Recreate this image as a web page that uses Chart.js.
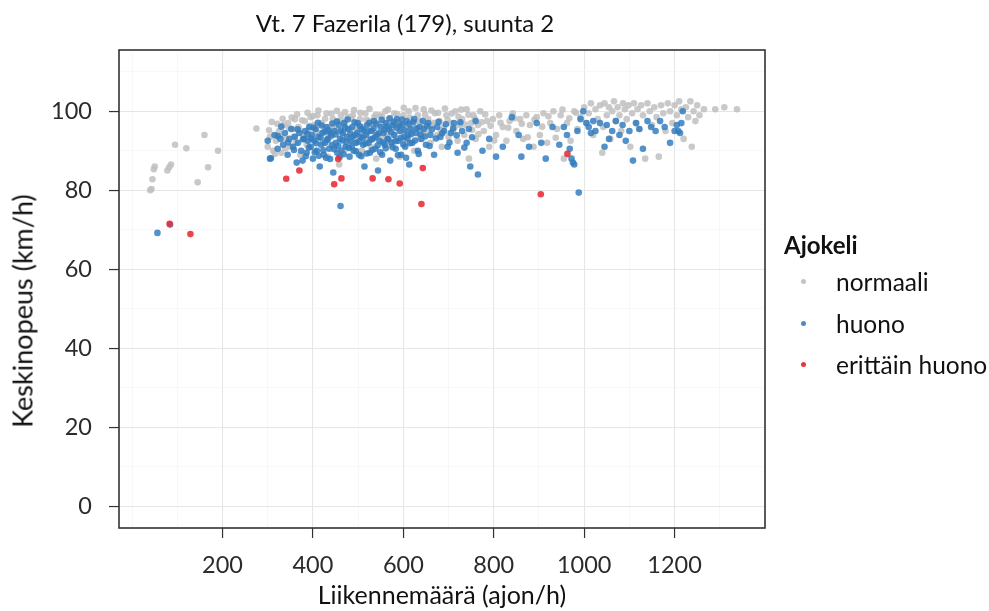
<!DOCTYPE html>
<html>
<head>
<meta charset="utf-8">
<script src="https://cdn.jsdelivr.net/npm/chart.js@4.4.1/dist/chart.umd.min.js"></script>
<style>
  body { margin: 0; background: #fff; }
  #wrap { position: relative; width: 989px; height: 611px; font-family: Lato, "Open Sans", sans-serif; }
  #title { position: absolute; left: 0; width: 810px; top: 8px; text-align: center; font-size: 24px; color: #111; }
  #ytitle { position: absolute; left: 22px; top: 311px; white-space: nowrap; font-size: 27px; color: #111;
            transform: translate(-50%, -50%) rotate(-90deg); }
  #legend { position: absolute; left: 784px; top: 229px; color: #111; font-size: 24.5px; }
  #legend .lt { font-weight: bold; font-size: 24px; height: 32px; line-height: 32px; }
  #legend .it { position: relative; height: 41.5px; line-height: 41.5px; padding-left: 52px; }
  #legend .dot { position: absolute; left: 17px; top: 18px; width: 5px; height: 5px; border-radius: 50%; }
</style>
</head>
<body>
<div id="wrap">
  <canvas id="c" width="989" height="611"></canvas>
  <div id="title">Vt. 7 Fazerila (179), suunta 2</div>
  <div id="ytitle">Keskinopeus (km/h)</div>
  <div id="legend"></div>
</div>
<script>
(function () {
  'use strict';

  // Ajokeli: normaali  [liikennemäärä, keskinopeus]
  var normaali = [
    [40,80],[43,80.3],[45,82.8],[48,85.3],[50,86],[78,85],[82,85.8],[86,86.5],[95,91.5],[120,90.6],
    [145,82],[160,94],[168,85.8],[190,90],[275,95.6],
    [300,91],[305,93.5],[312,90],[318,92.5],[325,95],[330,89.5],[335,96.5],[340,93],[345,97],[350,91],
    [355,95.5],[360,98],[362,92],[368,96],[372,89],[378,94],[382,97.5],[386,91.5],[390,95],[395,98.5],
    [398,93],[402,96.5],[405,90],[410,99],[414,94.5],[418,97],[422,92],[426,95.5],[430,99.5],[433,88.5],
    [436,96],[440,93.5],[444,98],[448,91],[452,95],[455,97.5],[458,86.5],[462,99],[466,94],[470,96.5],
    [473,90.5],[477,98.5],[480,93],[484,95.5],[488,99],[492,92],[496,97],[500,94.5],[504,98],[508,90],
    [512,96],[516,99.5],[520,93.5],[524,97.5],[528,91],[532,95],[536,98.5],[540,88],[544,96.5],[548,99],
    [552,93],[556,97],[560,100],[564,94],[568,98],[572,91.5],[576,96],[580,99.5],[584,93],[588,97.5],
    [592,88.5],[596,95],[600,99],[604,92.5],[608,96.5],[612,100],[616,94],[620,97.5],[624,90],[628,95.5],
    [632,99],[636,93],[640,97],[645,100.5],[650,95],[655,98],[660,92],[665,96.5],[670,99.5],[675,94],
    [680,97.5],[685,91],[690,96],[695,99],[700,93.5],[705,97],[710,95],[715,100],[720,92.5],[725,96.5],
    [730,98],[735,94],[740,100.5],[745,88],[750,97],
    [303,95.2],[309,97.3],[316,89.2],[321,96.8],[327,93.8],[333,98.1],[339,90.6],[347,95.8],[353,98.4],[358,93.6],
    [365,99.2],[371,95.1],[376,97.7],[381,93.2],[388,99.6],[393,96.3],[400,98.8],[407,94.9],[412,100.2],[420,96.8],
    [427,98.1],[434,94.3],[441,99.4],[446,96.3],[453,100.1],[459,94.8],[464,97.6],[471,99.8],[478,95.4],[485,98.2],
    [491,100.3],[498,96.1],[505,99.6],[511,94.2],[518,97.9],[525,100.6],[533,96.7],[539,99.1],[546,94.6],[553,98.6],
    [559,96.2],[566,100.4],[573,97.2],[579,94.1],[586,99.3],[593,96.8],[601,100.9],[607,94.9],[614,98.4],[621,95.7],
    [627,100.8],[634,97.4],[642,94.6],[648,99.2],[657,96.1],[662,100.2],[668,97.1],[677,99.6],[683,95.2],[692,100.7],
    [698,97.8],[707,99.4],[713,95.9],[722,98.6],[728,100.4],[737,96.6],[744,99.1],[752,95.3],[758,98.1],[766,94.2],
    [773,97.2],[781,99.2],[793,96.3],[801,92.6],[815,97.1],[832,95.8],[845,98.2],[862,96.8],[875,93.4],[890,97.9],
    [907,96.1],[921,98.7],[937,93.3],[952,100.4],[967,98.2],[982,99.6],
    [755,99],[760,93],[765,96.5],[770,100],[778,95],[785,97.5],[790,91],[798,98],[805,94],[812,99],
    [820,96],[828,92.5],[835,97.5],[842,99.5],[850,95],[858,98],[865,93],[872,99],[880,96.5],[888,91],
    [895,98.5],[902,94],[910,99.5],[918,92],[925,97],[932,100],[940,95.5],[948,99],[955,88],[962,97],
    [970,92.5],[978,100],[985,95.5],[992,98.5],
    [1000,101],[1005,97],[1010,99.5],[1015,102],[1020,94],[1025,100.5],[1030,98],[1035,101.5],[1040,89.5],[1042,96],
    [1045,102],[1050,99],[1055,101],[1058,93],[1062,100],[1066,102.5],[1070,97.5],[1074,101],[1078,99],[1082,95],
    [1086,102],[1090,100.5],[1094,98],[1098,101.5],[1102,91],[1106,99.5],[1110,102],[1114,97],[1118,100.5],[1122,95.5],
    [1126,101.5],[1130,99],[1135,88],[1140,102],[1145,100],[1150,96.5],[1155,101],[1160,98.5],[1165,88.5],[1170,101.5],
    [1175,99.5],[1180,95],[1185,102],[1190,100],[1195,97],[1200,101.5],[1205,99],[1210,102.5],[1215,100.5],[1220,93],
    [1225,101],[1230,98.5],[1235,102.5],[1238,91],[1242,100],[1246,97.5],[1250,101.5],[1255,99],[1265,100.5],[1290,100.5],
    [1310,101],[1338,100.5]
  ];

  // Ajokeli: huono
  var huono = [
    [56,69.2],[84,71.3],[307,88.1],[461,76],[765,84],[988,79.4],[861,88.5],
    [300,92.5],[305,88],[315,94],[322,90.5],[328,93],[334,91.5],[338,94.5],[344,89],[348,93],[352,95.5],
    [356,91],[360,93.5],[364,87],[367,92],[370,94.5],[374,90],[377,87.5],[380,93],[383,95],[386,89.5],
    [389,92.5],[392,96],[395,91],[398,94],[400,88],[403,92.5],[406,95.5],[409,90],[412,93.5],[415,86],
    [418,91.5],[421,94.5],[424,89],[427,92],[430,96],[433,93],[436,90.5],[439,94.5],[442,91.5],[445,84.5],
    [448,95],[451,92],[454,89.5],[457,96.5],[460,93],[463,90],[466,94.5],[469,97],[472,91],[475,93.5],
    [478,95.5],[481,88.5],[484,92.5],[487,96],[490,90],[493,94],[496,92],[499,97],[502,89],[505,93.5],
    [508,95.5],[511,91.5],[514,86],[517,94],[520,96.5],[523,92],[526,89.5],[529,95],[532,93],[535,97.5],
    [538,90.5],[541,94],[544,85],[547,92.5],[550,96],[553,89],[556,94.5],[559,91.5],[562,97],[565,93],
    [568,95.5],[571,87.5],[574,92],[577,96.5],[580,94],[583,90.5],[586,98],[589,92.5],[592,95],[595,89],
    [598,96.5],[601,93.5],[604,91],[607,97.5],[610,94],[613,86.5],[616,95.5],[620,92],[624,98],[628,94.5],
    [632,90],[636,96],[640,93],[645,95.5],[650,91.5],[655,97],[660,94],[668,89],[675,96],[682,93.5],
    [690,95],[698,91],[705,94.5],[712,97],[720,89.5],[730,95],[740,92],[748,86],[760,97.5],[775,90],
    [388,94.2],[391,90.8],[396,93.1],[401,95.9],[404,89.6],[407,91.9],[411,97.1],[413,88.7],[417,93.3],[419,96.4],
    [423,90.1],[426,94.8],[429,88.2],[431,92.7],[435,95.2],[438,87.9],[441,93.9],[443,96.9],[447,90.4],[450,94.1],
    [453,97.4],[456,91.2],[459,88.4],[462,95.1],[465,92.6],[468,89.1],[471,95.8],[474,92.2],[477,97.9],[480,90.7],
    [483,94.3],[486,91.1],[489,93.6],[492,97.2],[495,89.9],[498,94.6],[501,92.3],[504,96.2],[507,88.6],[510,93.2],
    [513,95.1],[516,91.8],[519,89.3],[522,94.9],[525,97.1],[528,92.8],[531,90.2],[534,95.6],[537,93.4],[540,96.9],
    [543,91.3],[546,94.4],[549,89.6],[552,97.8],[555,92.1],[558,95.3],[561,90.6],[564,96.1],[567,92.9],[570,98.2],
    [573,94.7],[576,90.9],[579,97.3],[582,92.4],[585,95.8],[588,88.9],[591,96.4],[594,93.2],[597,97.9],[600,91.6],
    [603,95.2],[606,88.2],[609,93.1],[612,96.8],[615,91.9],[618,94.3],[622,97.2],[626,92.6],[630,95.7],[634,89.2],
    [638,94.1],[643,97.6],[648,93.6],[652,96.3],[658,91.2],[663,95.4],[672,93.1],[678,97.3],[686,94.4],[694,96.7],
    [702,92.1],[710,95.6],[718,93.9],[726,97.2],[735,90.8],[745,95.5],[752,93.4],[322,93.7],[330,96.1],[345,92.1],
    [358,90.2],[366,95.4],[378,92.9],[384,88.6],
    [790,93],[805,88.5],[820,91],[840,98.5],[855,94],[878,91],[895,97],[905,92],[915,88],[930,96],
    [945,91.5],[955,96],[962,94],[968,90.5],[972,88],[975,87],[978,86.5],[985,95],[992,98],[998,100],
    [1005,97],[1010,96],[1015,94.5],[1020,97.5],[1025,95],[1035,97],[1045,91],[1050,96.5],[1055,93],[1062,95],
    [1070,97.5],[1078,94],[1085,96.5],[1092,92.5],[1100,95],[1108,87.5],[1115,97],[1122,95.5],[1130,90.5],[1140,97.5],
    [1148,96],[1158,95],[1168,97.5],[1178,96],[1190,92],[1200,95],[1205,96.5],[1208,95],[1212,94.5],[1215,97],
    [1218,100]
  ];

  // Ajokeli: erittäin huono
  var erittainHuono = [
    [83,71.5],[129,68.9],[341,82.9],[370,85],[456,87.9],[447,81.5],[463,83],[532,83],[567,82.8],[592,81.7],
    [643,85.6],[640,76.5],[904,79],[963,89.2]
  ];

  var xTicks = [0,100,200,300,400,500,600,700,800,900,1000,1100,1200,1300,1400];
  var xLabels = [200,400,600,800,1000,1200];
  var yTicks = [0,10,20,30,40,50,60,70,80,90,100,110];
  var yLabels = [0,20,40,60,80,100];

  var SERIES = [
    { label: 'normaali',       data: normaali,      color: 'rgba(192,192,192,0.85)', key: '#c4c4c4' },
    { label: 'huono',          data: huono,         color: 'rgba(52,126,192,0.85)',  key: '#4a8cc8' },
    { label: 'erittäin huono', data: erittainHuono, color: 'rgba(230,50,56,0.9)',   key: '#e6373c' }
  ];

  var MAJOR = '#e6e6e6', MINOR = '#f3f3f3', AXIS_TXT = '#2b2b2b', TITLE_TXT = '#111';
  var FONT = 'Lato, "Open Sans", sans-serif';

  function toPts(arr) { return arr.map(function (p) { return { x: p[0], y: p[1] }; }); }

  function gridFor(labels) {
    return {
      color: function (c) { return c.tick && labels.indexOf(c.tick.value) >= 0 ? MAJOR : MINOR; },
      lineWidth: function (c) { return c.tick && labels.indexOf(c.tick.value) >= 0 ? 1.1 : 0.6; },
      tickColor: function (c) { return c.tick && labels.indexOf(c.tick.value) >= 0 ? '#333' : 'rgba(0,0,0,0)'; },
      tickWidth: 1.2,
      tickLength: 10,
      drawTicks: true
    };
  }

  var panelBorder = {
    id: 'panelBorder',
    afterDatasetsDraw: function (chart) {
      var a = chart.chartArea, ctx = chart.ctx;
      ctx.save();
      ctx.strokeStyle = '#333';
      ctx.lineWidth = 1.6;
      ctx.strokeRect(a.left, a.top, a.right - a.left, a.bottom - a.top);
      ctx.restore();
    }
  };

  // drawn in reverse so normaali sits underneath
  var datasets = SERIES.map(function (s, i) {
    return {
      label: s.label,
      data: toPts(s.data),
      backgroundColor: s.color,
      borderWidth: 0,
      pointRadius: 3.3,
      pointHoverRadius: 3.3,
      order: SERIES.length - i
    };
  });

  new Chart(document.getElementById('c'), {
    type: 'scatter',
    data: { datasets: datasets },
    plugins: [panelBorder],
    options: {
      responsive: false,
      animation: false,
      events: [],
      layout: { padding: { top: 50, right: 224, left: 0, bottom: 0 } },
      plugins: { legend: { display: false }, tooltip: { enabled: false }, title: { display: false } },
      scales: {
        x: {
          type: 'linear',
          min: -29, max: 1400,
          afterBuildTicks: function (s) { s.ticks = xTicks.map(function (v) { return { value: v }; }); },
          afterFit: function (s) { s.height = 83; },
          grid: gridFor(xLabels),
          border: { display: false },
          ticks: {
            autoSkip: false, maxRotation: 0, padding: 13, color: AXIS_TXT,
            font: { family: FONT, size: 23.5 },
            callback: function (v) { return xLabels.indexOf(v) >= 0 ? String(v) : ''; }
          },
          title: {
            display: true, text: 'Liikennemäärä (ajon/h)', color: TITLE_TXT,
            font: { family: FONT, size: 25 }, padding: { top: 0, bottom: 0 }
          }
        },
        y: {
          type: 'linear',
          min: -5.5, max: 115.5,
          afterBuildTicks: function (s) { s.ticks = yTicks.map(function (v) { return { value: v }; }); },
          afterFit: function (s) { s.width = 119; },
          grid: gridFor(yLabels),
          border: { display: false },
          ticks: {
            autoSkip: false, padding: 17, color: AXIS_TXT,
            font: { family: FONT, size: 23.5 },
            callback: function (v) { return yLabels.indexOf(v) >= 0 ? String(v) : ''; }
          }
        }
      }
    }
  });

  var lg = document.getElementById('legend');
  var html = '<div class="lt">Ajokeli</div>';
  SERIES.forEach(function (s) {
    html += '<div class="it"><span class="dot" style="background:' + s.key + '"></span>' + s.label + '</div>';
  });
  lg.innerHTML = html;
})();
</script>
</body>
</html>
